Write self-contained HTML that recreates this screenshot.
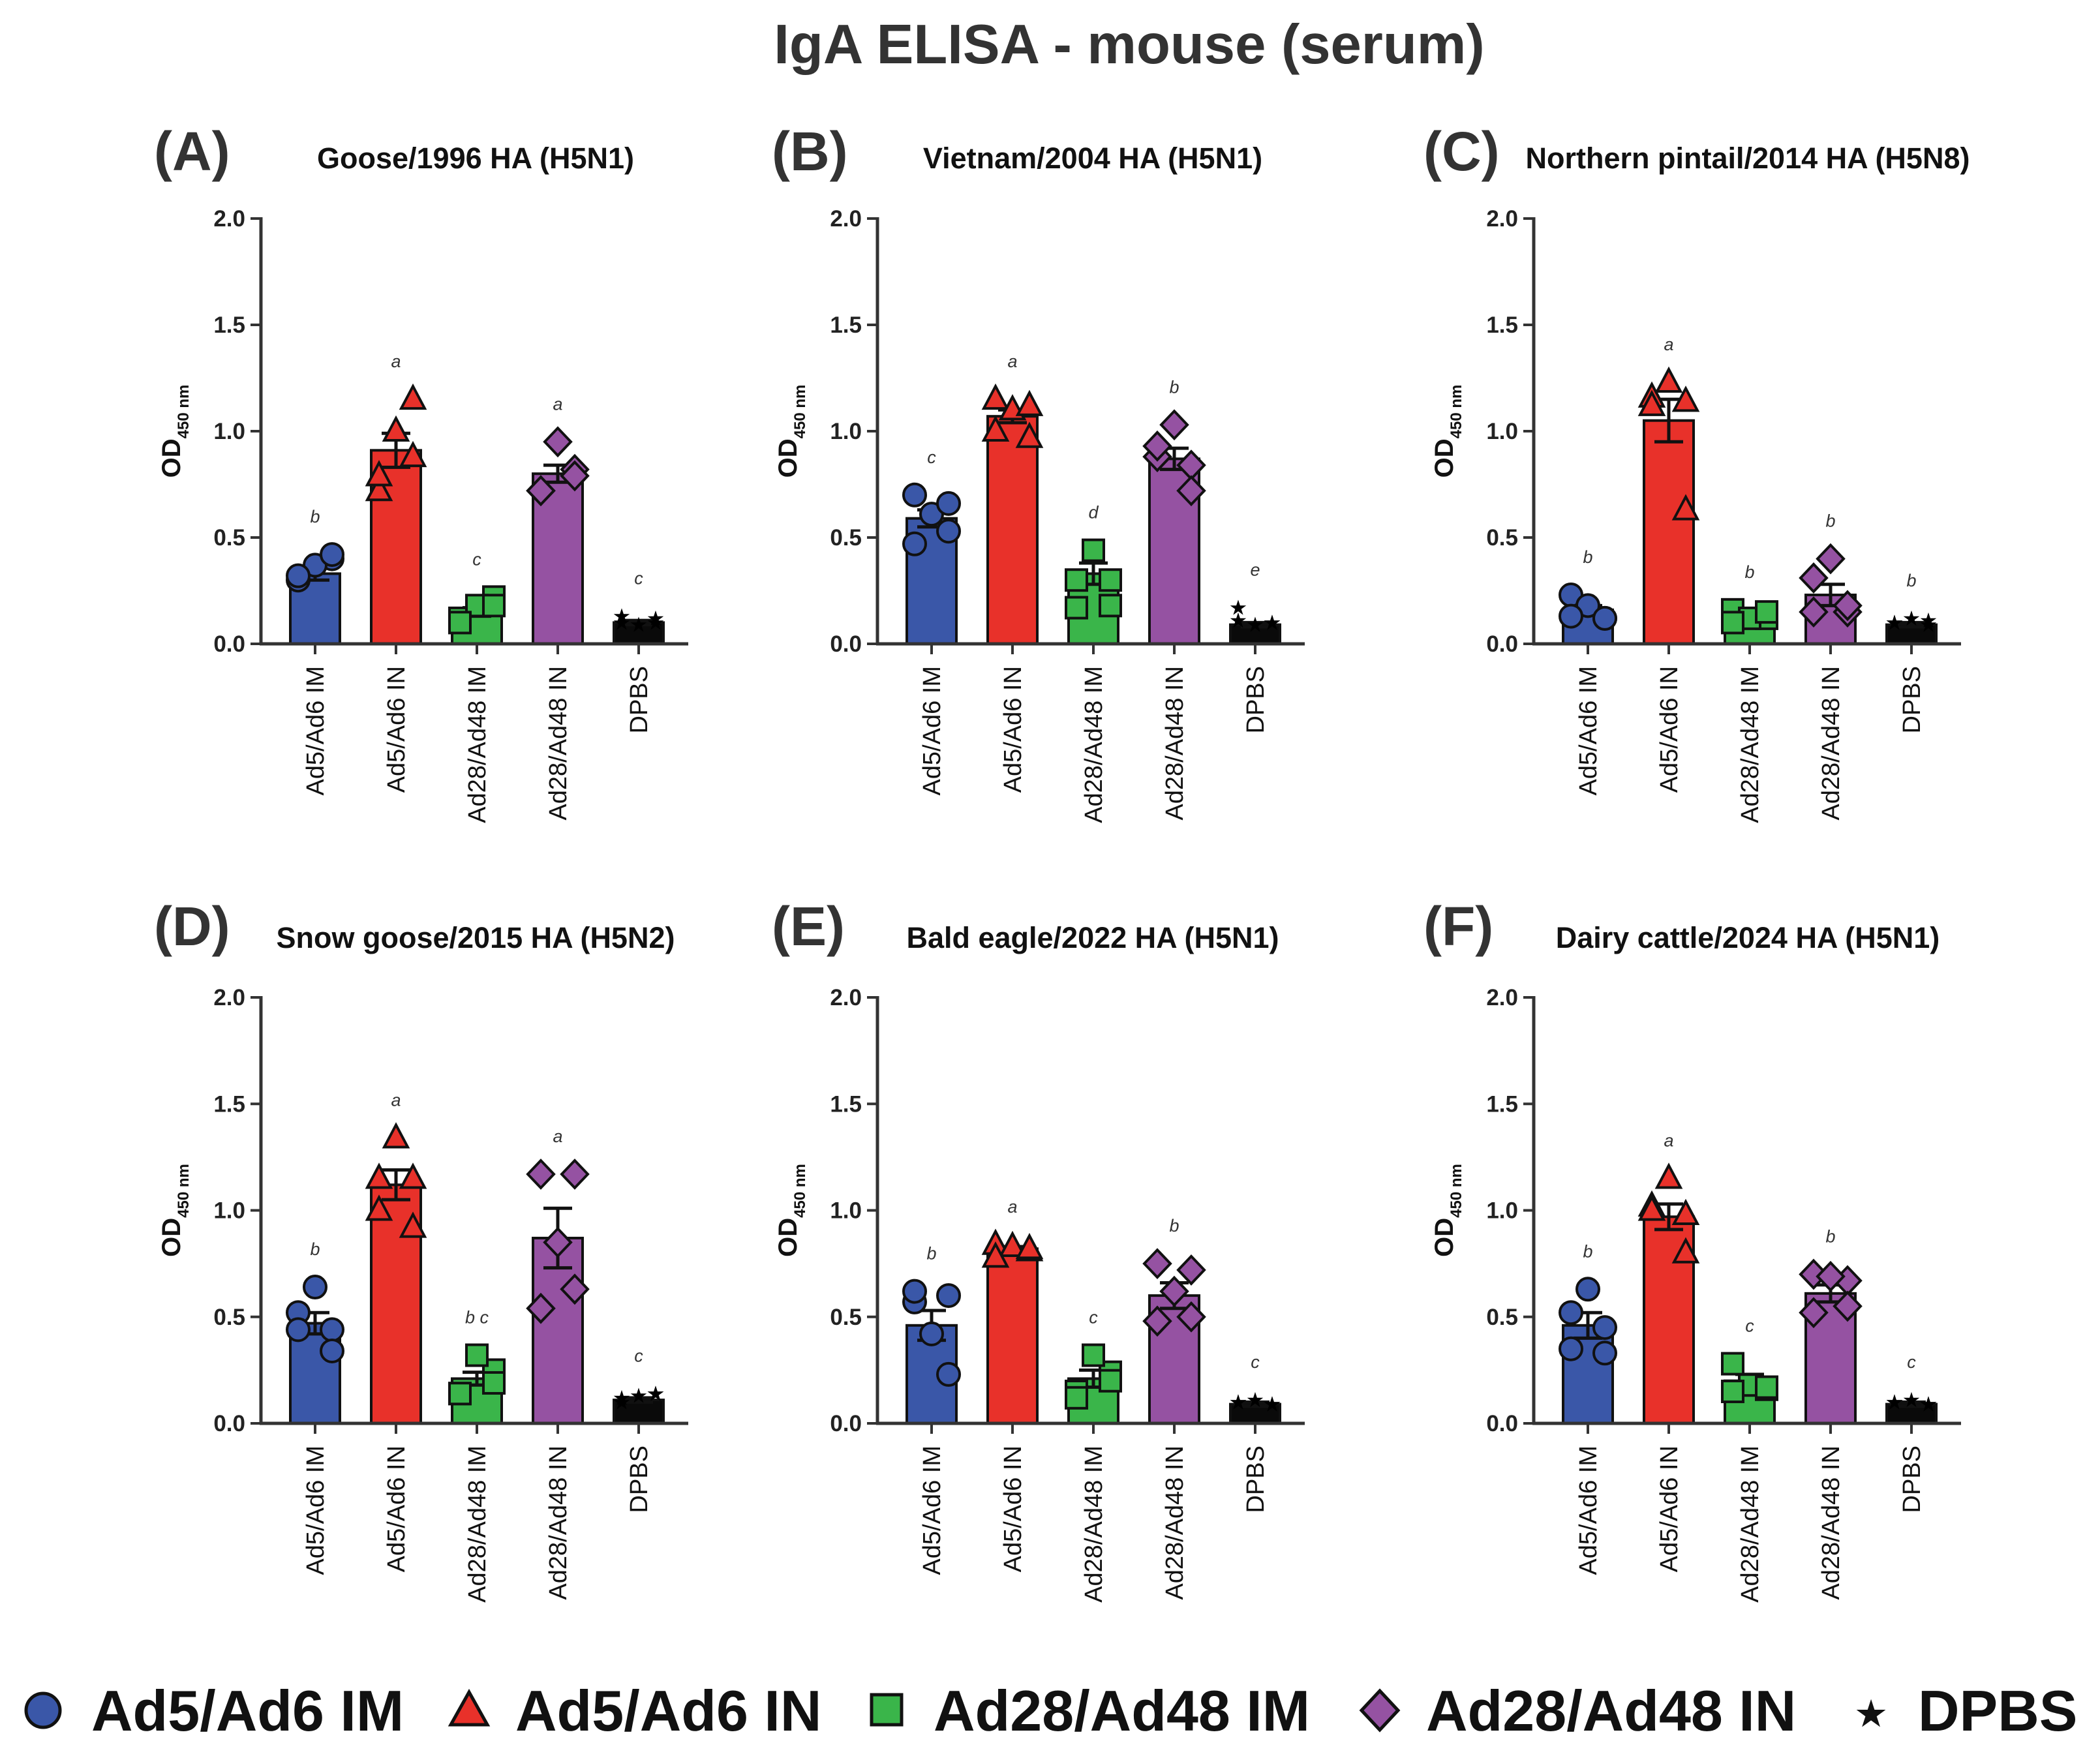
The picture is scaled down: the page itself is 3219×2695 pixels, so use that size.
<!DOCTYPE html>
<html><head><meta charset="utf-8"><style>
html,body{margin:0;padding:0;background:#fff;}
svg{display:block;font-family:"Liberation Sans",Arial,sans-serif;}
</style></head><body>
<svg id="fig" width="3219" height="2695" viewBox="0 0 3219 2695" xmlns="http://www.w3.org/2000/svg">
<text x="1731" y="97" font-size="85" font-weight="bold" fill="#333" text-anchor="middle">IgA ELISA - mouse (serum)</text>
<g id="panels"></g>
<g font-size="88" font-weight="bold" fill="#111">
  <circle cx="66" cy="2622" r="26" fill="#3a57a8" stroke="#111" stroke-width="5"/>
  <text x="140" y="2653">Ad5/Ad6 IM</text>
  <polygon points="719,2594 747,2644 691,2644" fill="#e8312a" stroke="#111" stroke-width="5"/>
  <text x="790" y="2653">Ad5/Ad6 IN</text>
  <rect x="1336" y="2598" width="46" height="46" fill="#3ab54a" stroke="#111" stroke-width="5"/>
  <text x="1431" y="2653">Ad28/Ad48 IM</text>
  <polygon points="2115,2592 2143,2622 2115,2652 2087,2622" fill="#9552a2" stroke="#111" stroke-width="5"/>
  <text x="2186" y="2653">Ad28/Ad48 IN</text>
  <text x="2868" y="2645" font-size="52" text-anchor="middle">★</text>
  <text x="2940" y="2653">DPBS</text>
</g>
</svg>
<script>
const categories = ["Ad5/Ad6 IM","Ad5/Ad6 IN","Ad28/Ad48 IM","Ad28/Ad48 IN","DPBS"];
const yTicks = [0,0.5,1.0,1.5,2.0];
const yTickLabels = ["0.0","0.5","1.0","1.5","2.0"];
const panelLetters = ["(A)","(B)","(C)","(D)","(E)","(F)"];
const panelTitles = ["Goose/1996 HA (H5N1)","Vietnam/2004 HA (H5N1)","Northern pintail/2014 HA (H5N8)","Snow goose/2015 HA (H5N2)","Bald eagle/2022 HA (H5N1)","Dairy cattle/2024 HA (H5N1)"];
const meansA = [0.33,0.91,0.15,0.80,0.10];
const meansB = [0.59,1.07,0.33,0.87,0.09];
const meansC = [0.16,1.05,0.14,0.23,0.09];
const meansD = [0.47,1.12,0.21,0.87,0.11];
const meansE = [0.46,0.82,0.21,0.60,0.09];
const meansF = [0.46,0.97,0.20,0.61,0.09];
const semA = [0.03,0.08,0.02,0.04,0.01];
const semB = [0.04,0.03,0.05,0.05,0.01];
const semC = [0.02,0.10,0.01,0.05,0.01];
const semD = [0.05,0.07,0.03,0.14,0.01];
const semE = [0.07,0.01,0.04,0.06,0.01];
const semF = [0.06,0.06,0.03,0.04,0.01];
const pointsA = [[0.30,0.40,0.37,0.32,0.42],[0.72,1.15,1.00,0.79,0.88],[0.12,0.22,0.18,0.10,0.18],[0.72,0.82,0.95,0.72,0.79],[0.10,0.12,0.09,0.13,0.10]];
const pointsB = [[0.70,0.53,0.61,0.47,0.66],[1.15,0.97,1.10,1.00,1.12],[0.30,0.18,0.44,0.17,0.30],[0.88,0.84,1.03,0.93,0.72],[0.17,0.10,0.09,0.11,0.10]];
const pointsC = [[0.23,0.12,0.18,0.13,0.12],[1.16,1.14,1.23,1.12,0.63],[0.16,0.12,0.12,0.10,0.15],[0.15,0.15,0.40,0.31,0.18],[0.10,0.09,0.12,0.10,0.11]];
const pointsD = [[0.52,0.44,0.64,0.44,0.34],[1.15,1.15,1.34,1.00,0.92],[0.14,0.25,0.32,0.14,0.19],[1.17,1.17,0.85,0.54,0.63],[0.12,0.14,0.13,0.10,0.14]];
const pointsE = [[0.57,0.60,0.42,0.62,0.23],[0.84,0.81,0.83,0.78,0.82],[0.15,0.24,0.32,0.12,0.20],[0.75,0.72,0.62,0.48,0.50],[0.10,0.09,0.11,0.10,0.09]];
const pointsF = [[0.52,0.45,0.63,0.35,0.33],[1.02,0.98,1.15,1.00,0.80],[0.28,0.16,0.18,0.15,0.17],[0.70,0.67,0.69,0.52,0.55],[0.10,0.09,0.11,0.10,0.09]];
const lettersA = ["b","a","c","a","c"];
const lettersB = ["c","a","d","b","e"];
const lettersC = ["b","a","b","b","b"];
const lettersD = ["b","a","b c","a","c"];
const lettersE = ["b","a","c","b","c"];
const lettersF = ["b","a","c","b","c"];

const allMeans=[meansA,meansB,meansC,meansD,meansE,meansF];
const allSem=[semA,semB,semC,semD,semE,semF];
const allPts=[pointsA,pointsB,pointsC,pointsD,pointsE,pointsF];
const allLetters=[lettersA,lettersB,lettersC,lettersD,lettersE,lettersF];
const colors=["#3a57a8","#e8312a","#3ab54a","#9552a2","#0a0a0a"];
const jitter=[-26,26,0,-26,26];
const originsX=[400,1345,2351];
const rowsY=[{y0:987,y2:335,title:258,letter:261},{y0:2182,y2:1529,title:1453,letter:1449}];
const titleX=[729,1675,2679];
const letterX=[236,1183,2182];
const NS="http://www.w3.org/2000/svg";
const root=document.getElementById('panels');
function mk(tag,attrs,parent){const e=document.createElementNS(NS,tag);for(const k in attrs)e.setAttribute(k,attrs[k]);(parent||root).appendChild(e);return e;}

for(let p=0;p<6;p++){
  const col=p%3,row=Math.floor(p/3);
  const ox=originsX[col],R=rowsY[row];
  const yS=v=>R.y0-(v/2.0)*(R.y0-R.y2);
  const xS=i=>ox+83+124*i;
  const g=mk('g',{});
  
  
  const pl=mk('text',{x:letterX[col],y:R.letter,'font-size':84,'font-weight':'bold',fill:'#333'},g);
  pl.textContent=panelLetters[p];
  
  
  const pt=mk('text',{x:titleX[col],y:R.title,'font-size':45,'font-weight':'bold',fill:'#111','text-anchor':'middle'},g);
  pt.textContent=panelTitles[p];
  
  
  const yt=mk('text',{transform:`translate(${ox-124},${(R.y0+R.y2)/2}) rotate(-90)`,'font-size':40,'font-weight':'bold',fill:'#111','text-anchor':'middle'},g);
  
  
  yt.innerHTML='OD<tspan font-size="24" dy="13">450 nm</tspan>';
  const m=allMeans[p],s=allSem[p],pts=allPts[p],lt=allLetters[p];
  for(let i=0;i<5;i++){
    const cx=xS(i);
    const b=mk('rect',{x:cx-38,y:yS(m[i]),width:76,height:R.y0-yS(m[i]),fill:colors[i],stroke:'#111','stroke-width':4},g);
    
    
    const e=mk('path',{d:`M${cx},${yS(m[i]-s[i])}V${yS(m[i]+s[i])}M${cx-22},${yS(m[i]+s[i])}H${cx+22}M${cx-22},${yS(m[i]-s[i])}H${cx+22}`,stroke:'#111','stroke-width':5,fill:'none'},g);
    
    
    let mx=m[i]+s[i];
    pts[i].forEach((v,j)=>{
      mx=Math.max(mx,v);
      const px=cx+jitter[j],py=yS(v);
      let el;
      if(i===0) el=mk('circle',{cx:px,cy:py,r:17,fill:colors[0],stroke:'#111','stroke-width':4},g);
      else if(i===1) el=mk('polygon',{points:`${px},${py-20} ${px+18},${py+14} ${px-18},${py+14}`,fill:colors[1],stroke:'#111','stroke-width':4},g);
      else if(i===2) el=mk('rect',{x:px-16,y:py-16,width:32,height:32,fill:colors[2],stroke:'#111','stroke-width':4},g);
      else if(i===3) el=mk('polygon',{points:`${px},${py-21} ${px+20},${py} ${px},${py+21} ${px-20},${py}`,fill:colors[3],stroke:'#111','stroke-width':4},g);
      else { el=mk('text',{x:px,y:py+11,'font-size':32,'text-anchor':'middle',fill:'#000'},g); el.textContent='★'; }
      
      
    });
    const sl=mk('text',{x:cx,y:yS(mx+0.15),'font-size':27,'font-style':'italic',fill:'#333','text-anchor':'middle'},g);
    sl.textContent=lt[i];
    
    
    const tk=mk('line',{x1:cx,y1:R.y0,x2:cx,y2:R.y0+16,stroke:'#333','stroke-width':4},g);
    
    
    const xl=mk('text',{transform:`translate(${cx+13},${R.y0+34}) rotate(-90)`,'font-size':38,fill:'#111','text-anchor':'end'},g);
    xl.textContent=categories[i];
    
    
  }
  const ya=mk('line',{x1:ox,y1:R.y2-2,x2:ox,y2:R.y0+2,stroke:'#333','stroke-width':5},g);
  
  
  const xa=mk('line',{x1:ox-2,y1:R.y0,x2:ox+655,y2:R.y0,stroke:'#333','stroke-width':5},g);
  
  
  yTicks.forEach((v,k)=>{
    const t=mk('line',{x1:ox-16,y1:yS(v),x2:ox,y2:yS(v),stroke:'#333','stroke-width':4},g);
    
    
    const tl=mk('text',{x:ox-24,y:yS(v)+12,'font-size':35,'font-weight':'bold',fill:'#222','text-anchor':'end'},g);
    tl.textContent=yTickLabels[k];
    
    
  });
}
</script>
</body></html>
